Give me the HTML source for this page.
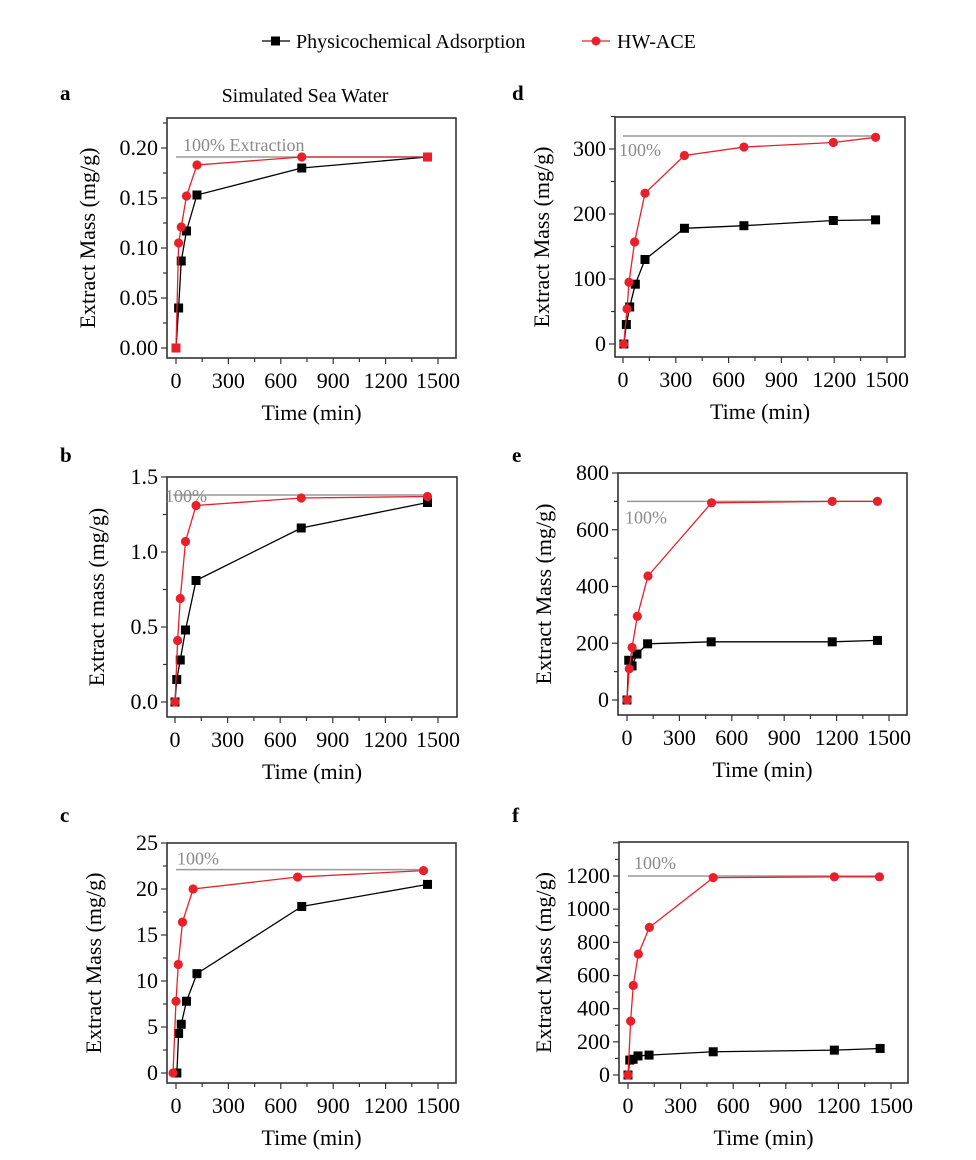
<!DOCTYPE html>
<html><head><meta charset="utf-8"><style>
html,body{margin:0;padding:0;background:#fff;}
svg{display:block;font-family:"Liberation Serif",serif;}
</style></head><body>
<svg id="fig" width="976" height="1160" viewBox="0 0 976 1160">
<g>
<g>
<line x1="262" y1="41" x2="290" y2="41" stroke="#000" stroke-width="1.3"/>
<rect x="271" y="36.500" width="9" height="9" fill="#000"/>
<text x="296" y="48" font-size="20">Physicochemical Adsorption</text></g>
<g>
<line x1="582" y1="41" x2="610" y2="41" stroke="#e8202a" stroke-width="1.3"/>
<circle cx="596" cy="41" r="4.5" fill="#e8202a"/>
<text x="617" y="48" font-size="20">HW-ACE</text></g>
</g>
<text x="305" y="102" font-size="20" text-anchor="middle">Simulated Sea Water</text>
</svg>
<script>
// Panel a
const aBlackT=[0,15,30,60,120,720,1440];
const aBlackV=[0,0.040,0.087,0.117,0.153,0.180,0.191];
const aRedT=[0,15,30,60,120,720,1440];
const aRedV=[0,0.105,0.121,0.152,0.183,0.191,0.191];
const aYTicks=[0,0.05,0.10,0.15,0.20];
const aYLabels=["0.00","0.05","0.10","0.15","0.20"];
// Panel b
const bBlackT=[0,10,30,60,120,720,1440];
const bBlackV=[0,0.15,0.28,0.48,0.81,1.16,1.33];
const bRedT=[0,15,30,60,120,720,1440];
const bRedV=[0,0.41,0.69,1.07,1.31,1.36,1.37];
const bYTicks=[0,0.5,1.0,1.5];
const bYLabels=["0.0","0.5","1.0","1.5"];
// Panel c
const cBlackT=[5,15,30,60,120,720,1440];
const cBlackV=[0,4.3,5.3,7.8,10.8,18.1,20.5];
const cRedT=[-17,0,13,37,98,696,1417];
const cRedV=[0,7.8,11.8,16.4,20.0,21.3,22.0];
const cYTicks=[0,5,10,15,20,25];
const cYLabels=["0","5","10","15","20","25"];
// Panel d
const dBlackT=[5,19,38,70,125,349,687,1195,1435];
const dBlackV=[0,30,57,92,130,178,182,190,191];
const dRedT=[4,23,34,66,125,349,687,1195,1435];
const dRedV=[0,54,95,157,232,290,303,310,318];
const dYTicks=[0,100,200,300];
const dYLabels=["0","100","200","300"];
// Panel e
const eBlackT=[0,10,29,57,118,482,1175,1434];
const eBlackV=[0,140,120,162,198,205,205,210];
const eRedT=[0,13,29,59,120,484,1175,1434];
const eRedV=[0,110,185,295,437,695,700,700];
const eYTicks=[0,200,400,600,800];
const eYLabels=["0","200","400","600","800"];
// Panel f
const fBlackT=[0,10,29,57,120,486,1177,1438];
const fBlackV=[0,90,95,115,120,140,150,160];
const fRedT=[0,15,30,59,122,486,1177,1434];
const fRedV=[0,325,540,730,890,1190,1195,1195];
const fYTicks=[0,200,400,600,800,1000,1200];
const fYLabels=["0","200","400","600","800","1000","1200"];
const xTicks=[0,300,600,900,1200,1500];
const xLabels=["0","300","600","900","1200","1500"];

const NS="http://www.w3.org/2000/svg";
const svg=document.getElementById('fig');
function mk(tag,attrs,parent){const e=document.createElementNS(NS,tag);for(const k in attrs)e.setAttribute(k,attrs[k]);(parent||svg).appendChild(e);return e;}

const panels=[
 {id:'a',box:[167,118,456,358],x0:176,x1:438,y0:348,yr:148,yrv:0.20,yt:aYTicks,yl:aYLabels,minorY:0.025,bt:aBlackT,bv:aBlackV,rt:aRedT,rv:aRedV,full:0.191,fullT:[0,1440],lab:"100% Extraction",labX:183,labDy:-6,ytitle:"Extract Mass (mg/g)",ytx:95,letterX:60,letterY:100},
 {id:'b',box:[167,477,457,717],x0:175,x1:438,y0:702,yr:477,yrv:1.5,yt:bYTicks,yl:bYLabels,minorY:0.25,bt:bBlackT,bv:bBlackV,rt:bRedT,rv:bRedV,full:1.38,fullT:[-10,1440],lab:"100%",labX:165,labDy:7,ytitle:"Extract mass (mg/g)",ytx:104,letterX:60,letterY:462},
 {id:'c',box:[167,843,456,1083],x0:176,x1:438,y0:1073,yr:843,yrv:25,yt:cYTicks,yl:cYLabels,minorY:2.5,bt:cBlackT,bv:cBlackV,rt:cRedT,rv:cRedV,full:22.1,fullT:[0,1440],lab:"100%",labX:177,labDy:-5,ytitle:"Extract Mass (mg/g)",ytx:101,letterX:60,letterY:822},
 {id:'d',box:[615,117,905,357],x0:623,x1:887,y0:344,yr:149,yrv:300,yt:dYTicks,yl:dYLabels,minorY:50,bt:dBlackT,bv:dBlackV,rt:dRedT,rv:dRedV,full:320,fullT:[0,1440],lab:"100%",labX:619,labDy:20,ytitle:"Extract Mass (mg/g)",ytx:549,letterX:512,letterY:100},
 {id:'e',box:[618,473,907,715],x0:627,x1:889,y0:700,yr:473,yrv:800,yt:eYTicks,yl:eYLabels,minorY:100,bt:eBlackT,bv:eBlackV,rt:eRedT,rv:eRedV,full:700,fullT:[0,1440],lab:"100%",labX:625,labDy:22,ytitle:"Extract Mass (mg/g)",ytx:551,letterX:512,letterY:462},
 {id:'f',box:[619,842,908,1083],x0:628,x1:891,y0:1075,yr:876,yrv:1200,yt:fYTicks,yl:fYLabels,minorY:100,bt:fBlackT,bv:fBlackV,rt:fRedT,rv:fRedV,full:1200,fullT:[0,1440],lab:"100%",labX:634,labDy:-7,ytitle:"Extract Mass (mg/g)",ytx:551,letterX:512,letterY:822}
];

panels.forEach(p=>{
 const xs=t=>p.x0+(p.x1-p.x0)*t/1500;
 const ys=v=>p.y0-(p.y0-p.yr)*v/p.yrv;
 const [L,T,R,B]=p.box;
 const g=mk('g',{});
 
 
 const lt=mk('text',{x:p.letterX,y:p.letterY,'font-size':21,'font-weight':'bold'},g);lt.textContent=p.id;
 
 
 const fr=mk('rect',{x:L,y:T,width:R-L,height:B-T,fill:'none',stroke:'#333','stroke-width':1.6},g);
 
 
 const xa=mk('g',{},g);
 
 
 for(let t=0;t<=1500;t+=150){const X=xs(t);const major=t%300===0;mk('line',{x1:X,y1:B,x2:X,y2:B+(major?6:4),stroke:'#333','stroke-width':1.2},xa);}
 xTicks.forEach((t,i)=>{const tx=mk('text',{x:xs(t),y:B+30,'font-size':22,'text-anchor':'middle'},xa);tx.textContent=xLabels[i];
  
  });
 const xt=mk('text',{x:(L+R)/2,y:B+62,'font-size':22,'text-anchor':'middle'},xa);xt.textContent='Time (min)';
 
 
 const ya=mk('g',{},g);
 
 
 const top=p.yt[p.yt.length-1]+p.minorY*2;
 for(let v=0;v<=top+1e-9;v+=p.minorY){const Y=ys(v);if(Y<T-0.5)break;const major=Math.abs(v/(p.minorY*2)-Math.round(v/(p.minorY*2)))<1e-6;mk('line',{x1:L,y1:Y,x2:L-(major?6:4),y2:Y,stroke:'#333','stroke-width':1.2},ya);}
 p.yt.forEach((v,i)=>{const ty=mk('text',{x:L-9,y:ys(v)+7,'font-size':22,'text-anchor':'end'},ya);ty.textContent=p.yl[i];
  
  });
 const ytl=mk('text',{x:p.ytx,y:(T+B)/2,'font-size':22,'text-anchor':'middle',transform:`rotate(-90 ${p.ytx} ${(T+B)/2})`},ya);ytl.textContent=p.ytitle;
 
 
 const fl=mk('line',{x1:xs(p.fullT[0]),y1:ys(p.full),x2:xs(p.fullT[1]),y2:ys(p.full),stroke:'#999','stroke-width':1.5},g);
 
 
 const flt=mk('text',{x:p.labX,y:ys(p.full)+p.labDy,'font-size':18,fill:'#8a8a8a'},g);flt.textContent=p.lab;
 
 
 const bl=mk('polyline',{points:p.bt.map((t,i)=>xs(t)+','+ys(p.bv[i])).join(' '),fill:'none',stroke:'#000','stroke-width':1.3},g);
 
 
 p.bt.forEach((t,i)=>{const r=mk('rect',{x:xs(t)-4.5,y:ys(p.bv[i])-4.5,width:9,height:9,fill:'#000'},g);
  
  });
 const rl=mk('polyline',{points:p.rt.map((t,i)=>xs(t)+','+ys(p.rv[i])).join(' '),fill:'none',stroke:'#e8202a','stroke-width':1.3},g);
 
 
 p.rt.forEach((t,i)=>{const c=mk('circle',{cx:xs(t),cy:ys(p.rv[i]),r:4.6,fill:'#e8202a'},g);
  
  });
 if(p.id==='a'){const r=mk('rect',{x:xs(1440)-4.5,y:ys(0.191)-4.5,width:9,height:9,fill:'#e8202a'},g);
  
  
  const r0=mk('rect',{x:xs(0)-4.5,y:ys(0)-4.5,width:9,height:9,fill:'#e8202a'},g);
  
  }
});
</script>
</body></html>
